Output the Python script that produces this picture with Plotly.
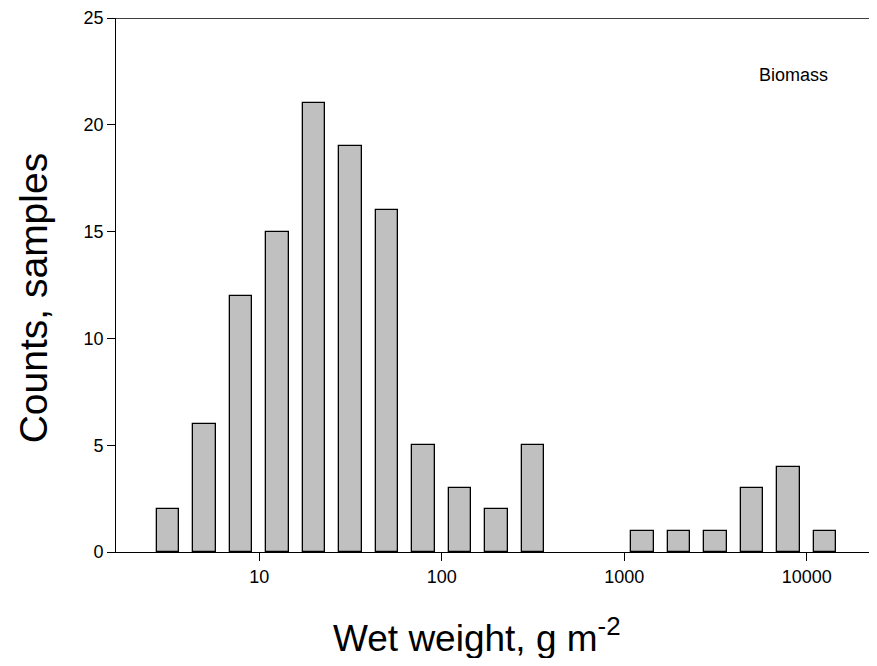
import plotly.graph_objects as go

# Data: bin centers (log10 of wet weight, g m^-2) and counts
bin_log10_centers = [0.5, 0.7, 0.9, 1.1, 1.3, 1.5, 1.7, 1.9, 2.1, 2.3, 2.5,
                     3.1, 3.3, 3.5, 3.7, 3.9, 4.1]
counts = [2, 6, 12, 15, 21, 19, 16, 5, 3, 2, 5,
          1, 1, 1, 3, 4, 1]
x_tick_vals = [1, 2, 3, 4]
x_tick_labels = ["10", "100", "1000", "10000"]
y_tick_vals = [0, 5, 10, 15, 20, 25]

FONT = "Liberation Sans, Arial, sans-serif"

# page has an 8px body margin; figure is 861x650 so the page is 877x666
FW, FH = 861, 650
OFF = 8
L = 107 - OFF
T = 17.7 - OFF
B = FH - (551.7 - OFF)
R = 0
W = FW - L - R
H = FH - T - B
DEC = 182.5  # px per decade
x0 = 0.1655
x1 = x0 + W / DEC


def px(xp):
    return (xp - 107) / W


def py(yp):
    return (551.7 - yp) / H


fig = go.Figure()
fig.add_trace(go.Bar(
    x=bin_log10_centers, y=counts, width=0.123,
    marker=dict(color="#c0c0c0", line=dict(color="black", width=1.3)),
    showlegend=False,
))

fig.update_layout(
    width=FW, height=FH,
    margin=dict(l=L, r=R, t=T, b=B, pad=0, autoexpand=False),
    paper_bgcolor="white", plot_bgcolor="white",
    font=dict(family=FONT, color="black", size=18),
    bargap=0,
    xaxis=dict(
        range=[x0, x1], showgrid=False, zeroline=False, automargin=False,
        showline=True, linecolor="black", linewidth=1.3,
        tickmode="array", tickvals=x_tick_vals, ticktext=x_tick_labels,
        ticks="outside", ticklen=8, tickwidth=1, tickcolor="black",
        tickfont=dict(size=18, family=FONT),
    ),
    yaxis=dict(
        range=[0, 25], showgrid=False, zeroline=False, automargin=False,
        showline=True, linecolor="black", linewidth=1.3,
        anchor="free", position=px(115.3),
        tickmode="array", tickvals=y_tick_vals,
        ticks="outside", ticklen=8, tickwidth=1, tickcolor="black",
        tickfont=dict(size=18, family=FONT),
    ),
    shapes=[dict(type="line", xref="paper", yref="y",
                 x0=px(115.3), x1=1, y0=25, y1=25,
                 line=dict(color="black", width=1.3))],
    annotations=[
        dict(text="Wet weight, g m<sup>-2</sup>", xref="paper", yref="paper",
             x=px(477), y=py(635), showarrow=False,
             font=dict(size=37, family=FONT), xanchor="center", yanchor="middle"),
        dict(text="Counts, samples", xref="paper", yref="paper",
             x=px(33), y=py(298), showarrow=False, textangle=-90,
             font=dict(size=39, family=FONT), xanchor="center", yanchor="middle"),
        dict(text="Biomass", xref="paper", yref="paper",
             x=px(793), y=py(75), showarrow=False,
             font=dict(size=18, family=FONT), xanchor="center", yanchor="middle"),
    ],
)

fig.write_html("out.html")
